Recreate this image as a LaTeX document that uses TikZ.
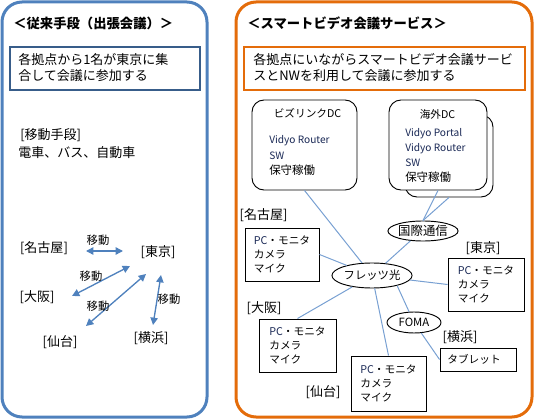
\documentclass[tikz,border=0pt]{standalone}
\usepackage{fontspec}
\setmainfont{Noto Sans CJK JP}
\usetikzlibrary{arrows.meta,shapes.geometric,calc}
\definecolor{pblue}{RGB}{79,129,189}
\definecolor{dblue}{RGB}{56,93,138}
\definecolor{porange}{RGB}{228,108,10}
\definecolor{lblue}{RGB}{120,160,210}
\definecolor{navy}{RGB}{25,40,85}
\begin{document}
\begin{tikzpicture}[x=0.75pt,y=-0.75pt,
  ttl/.style={anchor=west, inner sep=0pt, font=\bfseries\fontsize{10pt}{12pt}\selectfont},
  para/.style={anchor=west, inner sep=0pt, align=left, font=\fontsize{9.75pt}{12pt}\selectfont},
  lbl/.style={inner sep=0pt, font=\fontsize{9.75pt}{11pt}\selectfont},
  mv/.style={inner sep=0pt, font=\fontsize{8.5pt}{10pt}\selectfont},
  biarrow/.style={pblue, line width=1pt, {Triangle[length=5.5pt,width=5.5pt]}-{Triangle[length=5.5pt,width=5.5pt]}},
  dev/.style={draw=black, line width=0.7pt, inner sep=0pt, align=left, font=\fontsize{8pt}{10.5pt}\selectfont},
  conn/.style={lblue, line width=0.75pt},
  oval/.style={ellipse, draw=black, line width=0.7pt, inner sep=0pt, fill=white},
  dcbox/.style={draw=black, line width=0.7pt, rounded corners=9pt, fill=white, inner sep=0pt},
  dctxt/.style={anchor=west, inner sep=0pt, navy, font=\fontsize{7.6pt}{9pt}\selectfont},
  dcjp/.style={anchor=west, inner sep=0pt, font=\fontsize{8.6pt}{10pt}\selectfont}
]
\useasboundingbox (0,0) rectangle (535,420);
% ---------------- left panel ----------------
\draw[pblue, line width=2.25pt, rounded corners=15pt] (2,2) rectangle (207,417);
\node[ttl] (ltitle) at (13,23) {＜従来手段（出張会議）＞};
\draw[dblue, line width=1.1pt] (10,47) rectangle (200,90);
\node[para] (ltext) at (18,68) {各拠点から1名が東京に集\\合して会議に参加する};
\node[lbl, anchor=west] (means) at (20,135) {[移動手段]};
\node[lbl, anchor=west] (meansv) at (18,153) {電車、バス、自動車};

\node[lbl] (nagoyaL) at (44,248) {[名古屋]};
\node[lbl] (tokyoL) at (158,252) {[東京]};
\node[lbl] (osakaL) at (37,297) {[大阪]};
\node[lbl] (sendaiL) at (60,342) {[仙台]};
\node[lbl] (yokoL) at (151,338) {[横浜]};

\draw[biarrow] ($(nagoyaL)+(42,3)$) -- ($(tokyoL)+(-35,-1)$);
\draw[biarrow] ($(osakaL)+(35,-1)$) -- ($(tokyoL)+(-28,14)$);
\draw[biarrow] ($(sendaiL)+(26,-16)$) -- ($(tokyoL)+(-12,22)$);
\draw[biarrow] ($(yokoL)+(2,-13)$) -- ($(tokyoL)+(3,23)$);

\node[mv] (m1) at (98,240) {移動};
\node[mv] (m2) at (91,276) {移動};
\node[mv] (m3) at (98,306) {移動};
\node[mv] (m4) at (169,299) {移動};

% ---------------- right panel ----------------
\draw[porange, line width=2.25pt, rounded corners=15pt] (236,2) rectangle (532,417);
\node[ttl] (rtitle) at (247,23) {＜スマートビデオ会議サービス＞};
\draw[porange, line width=1.1pt] (244,47) rectangle (525,90);
\node[para] (rtext) at (253,68) {各拠点にいながらスマートビデオ会議サービ\\スとNWを利用して会議に参加する};

% data centres
\node[dcbox, minimum width=105*0.75pt, minimum height=90*0.75pt] (biz) at (304.5,145) {};
\node[inner sep=0pt, font=\fontsize{8pt}{9pt}\selectfont] (bizt) at (307.5,113) {ビズリンクDC};
\node[dctxt] (bizv) at (269,141) {Vidyo Router};
\node[dctxt] (bizs) at (269,156) {SW};
\node[dcjp] (bizh) at (269,170) {保守稼働};

\node[dcbox, minimum width=88*0.75pt, minimum height=82*0.75pt] (kaib) at (449,156) {};
\node[dcbox, minimum width=98*0.75pt, minimum height=90*0.75pt] (kai) at (438,145) {};
\node[inner sep=0pt, font=\fontsize{8pt}{9pt}\selectfont] (kait) at (437.5,114) {海外DC};
\node[dctxt] (kaip) at (405,134) {Vidyo Portal};
\node[dctxt] (kaiv) at (405,149) {Vidyo Router};
\node[dctxt] (kais) at (405,163) {SW};
\node[dcjp] (kaih) at (405,177) {保守稼働};

% network
\node[oval, minimum width=75*0.75pt, minimum height=25*0.75pt, font=\fontsize{8.5pt}{10pt}\selectfont] (flets) at (372,275.5) {フレッツ光};
\node[oval, minimum width=68*0.75pt, minimum height=20*0.75pt, font=\fontsize{9.3pt}{10pt}\selectfont] (koku) at (423,231) {国際通信};
\node[oval, minimum width=54*0.75pt, minimum height=21*0.75pt, font=\fontsize{8.5pt}{10pt}\selectfont] (foma) at (414,322.5) {FOMA};

% sites
\node[dev, minimum width=74*0.75pt, minimum height=53*0.75pt] (nagoyaB) at (282,254.5) {{\color{navy}PC}・モニタ\\カメラ\\マイク};
\node[dev, minimum width=76*0.75pt, minimum height=53*0.75pt] (tokyoB) at (486,284.5) {{\color{navy}PC}・モニタ\\カメラ\\マイク};
\node[dev, minimum width=77*0.75pt, minimum height=53*0.75pt] (osakaB) at (297.5,345.5) {{\color{navy}PC}・モニタ\\カメラ\\マイク};
\node[dev, minimum width=75*0.75pt, minimum height=55*0.75pt] (sendaiB) at (388.5,383.5) {{\color{navy}PC}・モニタ\\カメラ\\マイク};
\node[dev, minimum width=76*0.75pt, minimum height=23*0.75pt] (tabletB) at (478,359.5) {タブレット\hspace*{6pt}};

\node[lbl] (nagoyaR) at (263.5,215) {[名古屋]};
\node[lbl] (tokyoR) at (483,248) {[東京]};
\node[lbl] (osakaR) at (264,308) {[大阪]};
\node[lbl] (sendaiR) at (323,392) {[仙台]};
\node[lbl] (yokoR) at (460,337) {[横浜]};

% connectors
\draw[conn] (biz.south) -- (flets);
\draw[conn] (kai.south) -- (koku.north);
\draw[conn] (kaib.south) -- (koku.north);
\draw[conn] (koku.218) -- (flets);
\draw[conn] (nagoyaB.east) -- (flets);
\draw[conn] (tokyoB.west) -- (flets);
\draw[conn] (osakaB.north) -- (flets);
\draw[conn] (sendaiB.north) -- (flets);
\draw[conn] (flets.-22) -- (foma);
\draw[conn] (foma) -- (tabletB.west);
\end{tikzpicture}
\end{document}
